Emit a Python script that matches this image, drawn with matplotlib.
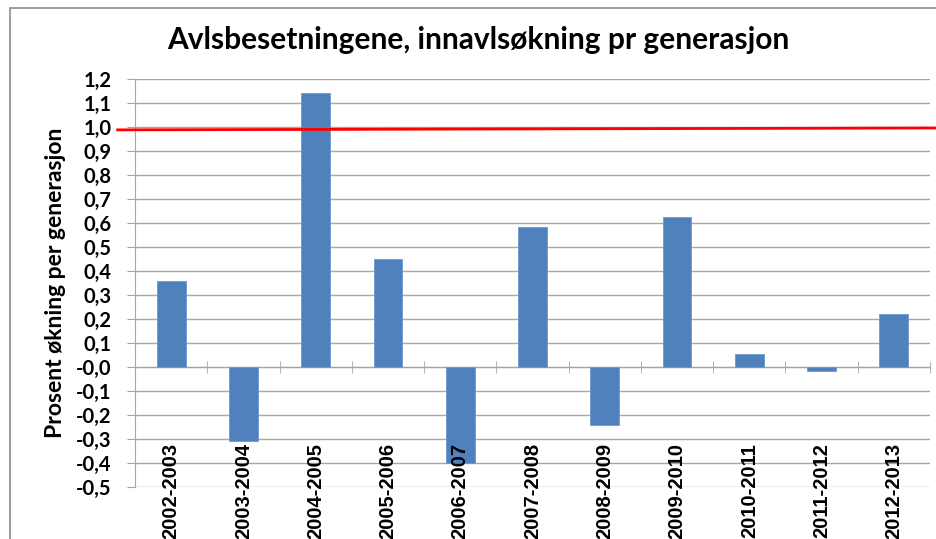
import numpy as np
import matplotlib.pyplot as plt
from matplotlib.patches import Rectangle

# Data
perioder = ["2002-2003", "2003-2004", "2004-2005", "2005-2006", "2006-2007",
            "2007-2008", "2008-2009", "2009-2010", "2010-2011", "2011-2012",
            "2012-2013"]
verdier = [0.36, -0.31, 1.14, 0.45, -0.40, 0.585, -0.24, 0.625, 0.055, -0.015, 0.22]

# Hand-drawn red reference line (slightly sloped in the original)
grense_x = [-0.74, 10.6]
grense_y = [0.988, 0.996]

y_ticks = np.round(np.arange(-0.5, 1.21, 0.1), 1)

plt.rcParams['font.family'] = ['Lato', 'DejaVu Sans']

fig = plt.figure(figsize=(9.37, 5.39), dpi=100)
ax = fig.add_axes([135 / 937, 1 - 487 / 539, 795 / 937, 408 / 539])

# Outer chart border
fig.add_artist(Rectangle((10 / 937, -0.1), 1.1, 1.1 - 8 / 539,
                         transform=fig.transFigure, fill=False,
                         edgecolor='#8c8c8c', lw=1.2))

x = np.arange(len(perioder))
ax.bar(x, verdier, width=0.4, color='#4F81BD', edgecolor='#6f9bd0', lw=0.6, zorder=3)

ax.set_xlim(-0.5, len(perioder) - 0.5)
ax.set_ylim(-0.5, 1.2)
ax.set_yticks(y_ticks)
ax.set_yticklabels([("%.1f" % v).replace('.', ',') for v in y_ticks],
                   fontsize=14.5, fontweight='bold')
ax.yaxis.grid(True, color='#a6a6a6', lw=1)
ax.set_axisbelow(True)
ax.tick_params(axis='y', length=6, color='#a6a6a6', pad=11)

for s in ['top', 'right']:
    ax.spines[s].set_visible(False)
ax.spines['left'].set_color('#a6a6a6')
ax.spines['bottom'].set_position(('data', 0))
ax.spines['bottom'].set_color('#a6a6a6')

# category labels sit just under the zero line, on top of the bars
ax.set_xticks(x)
ax.set_xticklabels([])
ax.tick_params(axis='x', which='major', length=0)
ax.set_xticks(np.arange(-0.5, len(perioder), 1), minor=True)
ax.tick_params(axis='x', which='minor', length=9, direction='inout',
               color='#a6a6a6')
for xi, navn in zip(x, perioder):
    ax.text(xi, -0.318, navn, rotation=90, ha='center', va='top',
            fontsize=14.5, fontweight='bold', family=['Liberation Sans'],
            zorder=6, clip_on=False)

ax.plot(grense_x, grense_y, color='#ff0000', lw=2, clip_on=False, zorder=5)

ax.set_ylabel("Prosent økning per generasjon", fontsize=16.5, fontweight='bold')
ax.yaxis.set_label_coords(-(135 - 66) / 795, 0.5)
fig.text(0.51, 1 - 40 / 539, "Avlsbesetningene, innavlsøkning pr generasjon",
         ha='center', va='center', fontsize=21.5, fontweight='bold')

fig.savefig("out.png", dpi=100)
